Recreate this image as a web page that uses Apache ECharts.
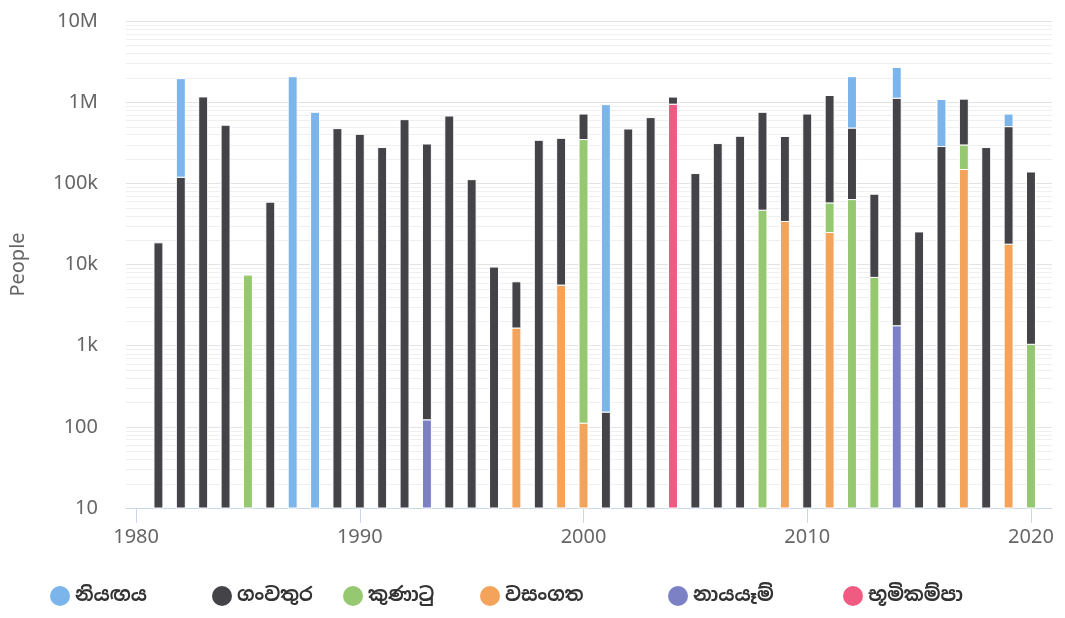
<!DOCTYPE html>
<html>
<head>
<meta charset="utf-8">
<script src="https://cdn.jsdelivr.net/npm/echarts@6/dist/echarts.min.js"></script>
<style>
  html, body { margin: 0; padding: 0; background: #ffffff; }
  #chart { width: 1065px; height: 618px; }
</style>
</head>
<body>
<div id="chart"></div>
<script>
// Axis ticks
const xTicks = [1980, 1990, 2000, 2010, 2020];
const yTicks = [10, 100, 1000, 10000, 100000, 1000000, 10000000];
const yTickLabels = ['10', '100', '1k', '10k', '100k', '1M', '10M'];

// People affected per year, by disaster type: [year, people]
const drought = [[1982, 1830000], [1987, 2060000], [1988, 750000], [2001, 931000],
  [2012, 1580000], [2014, 1560000], [2016, 796000], [2019, 214000]];
const flood = [[1981, 18500], [1982, 119000], [1983, 1160000], [1984, 520000], [1986, 58600],
  [1989, 472000], [1990, 402000], [1991, 276000], [1992, 609000], [1993, 305000],
  [1994, 675000], [1995, 111000], [1996, 9300], [1997, 4470], [1998, 339000],
  [1999, 353000], [2000, 368000], [2001, 152], [2002, 467000], [2003, 645000],
  [2004, 211000], [2005, 132000], [2006, 309000], [2007, 380000], [2008, 703000],
  [2009, 344000], [2010, 714000], [2011, 1150000], [2012, 417000], [2013, 66500],
  [2014, 1118000], [2015, 25200], [2016, 284000], [2017, 793000], [2018, 276000],
  [2019, 482000], [2020, 137000]];
const storm = [[1985, 7400], [2000, 346000], [2008, 46700], [2011, 32600], [2012, 63100],
  [2013, 6940], [2017, 149000], [2020, 1040]];
const epidemic = [[1997, 1650], [1999, 5580], [2000, 111], [2009, 33900], [2011, 24800],
  [2017, 148000], [2019, 17800]];
const landslide = [[1993, 122], [2014, 1760]];
const earthquake = [[2004, 945000]];

// Series in stacking order, bottom to top
const stackOrder = [
  { name: 'වසංගත', data: epidemic, color: '#f4a35a' },
  { name: 'නායයෑම්', data: landslide, color: '#7c81c6' },
  { name: 'භූමිකම්පා', data: earthquake, color: '#ef5b81' },
  { name: 'කුණාටු', data: storm, color: '#95c870' },
  { name: 'ගංවතුර', data: flood, color: '#434348' },
  { name: 'නියඟය', data: drought, color: '#7cb5ec' }
];

// Legend order and placement (left edge of each marker)
const legendOrder = ['නියඟය', 'ගංවතුර', 'කුණාටු', 'වසංගත', 'නායයෑම්', 'භූමිකම්පා'];
const legendLeft = [45, 207, 338, 475, 663, 838];

const font = "'Noto Sans', 'Noto Sans Sinhala', 'DejaVu Sans', sans-serif";

// running totals per year so each segment sits on the ones below it
const runningTotal = {};
const barSeries = stackOrder.map(function (s) {
  const items = s.data.map(function (d) {
    const base = runningTotal[d[0]] || 0;
    runningTotal[d[0]] = base + d[1];
    return [d[0], d[1], base];
  });
  return {
    name: s.name,
    type: 'custom',
    z: 2,
    itemStyle: { color: s.color },
    encode: { x: 0, y: 1 },
    data: items,
    renderItem: function (params, api) {
      const year = api.value(0);
      const value = api.value(1);
      const base = api.value(2);
      const cs = params.coordSys;
      const top = api.coord([year, base + value]);
      const bottomY = base > 0 ? api.coord([year, base])[1] : cs.y + cs.height;
      const w = api.size([1, 0])[0] * 0.4;
      return {
        type: 'rect',
        shape: { x: top[0] - w / 2, y: top[1], width: w, height: bottomY - top[1] },
        style: { fill: api.visual('color'), stroke: '#ffffff', lineWidth: 1 }
      };
    }
  };
});

// Light minor gridlines at 2..9 of every decade
const minorLines = [];
for (let d = 10; d < 10000000; d *= 10) {
  for (let m = 2; m <= 9; m++) minorLines.push([1980, d * m]);
}
const minorGrid = {
  name: 'minor-grid',
  type: 'custom',
  silent: true,
  z: 0,
  encode: { x: 0, y: 1 },
  data: minorLines,
  renderItem: function (params, api) {
    const cs = params.coordSys;
    const y = Math.round(api.coord([1980, api.value(1)])[1]) + 0.5;
    return {
      type: 'line',
      shape: { x1: cs.x, y1: y, x2: cs.x + cs.width, y2: y },
      style: { stroke: '#efefef', lineWidth: 1 }
    };
  }
};

const legends = legendOrder.map(function (name, i) {
  return {
    data: [name],
    left: legendLeft[i],
    top: 581,
    icon: 'circle',
    itemWidth: 20,
    itemHeight: 20,
    itemGap: 14,
    textStyle: { fontFamily: font, fontSize: 19, fontWeight: 'bold', color: '#333333' }
  };
});

const chart = echarts.init(document.getElementById('chart'), null, { renderer: 'canvas' });
chart.setOption({
  animation: false,
  backgroundColor: '#ffffff',
  grid: { left: 123, right: 13, top: 21, bottom: 110, containLabel: false },
  legend: legends,
  xAxis: {
    type: 'value',
    min: 1979.55,
    max: 2020.94,
    axisLine: { show: true, lineStyle: { color: '#ccd6eb', width: 1 } },
    axisTick: { show: true, customValues: xTicks, length: 15, lineStyle: { color: '#ccd6eb' } },
    axisLabel: {
      customValues: xTicks,
      margin: 19,
      fontFamily: font,
      fontSize: 20,
      color: '#666666',
      formatter: function (v) { return String(v); }
    },
    splitLine: { show: false }
  },
  yAxis: {
    type: 'log',
    logBase: 10,
    min: 10,
    max: 10000000,
    splitNumber: 6,
    name: 'People',
    nameLocation: 'middle',
    nameGap: 98,
    nameTextStyle: { fontFamily: font, fontSize: 20, color: '#666666' },
    axisLine: { show: false },
    axisTick: { show: false },
    axisLabel: {
      margin: 28,
      fontFamily: font,
      fontSize: 20,
      color: '#666666',
      formatter: function (v) {
        return yTickLabels[yTicks.indexOf(Math.pow(10, Math.round(Math.log10(v))))];
      }
    },
    splitLine: { show: true, lineStyle: { color: '#e3e3e3', width: 1 } }
  },
  series: [minorGrid].concat(barSeries)
});
</script>
</body>
</html>
